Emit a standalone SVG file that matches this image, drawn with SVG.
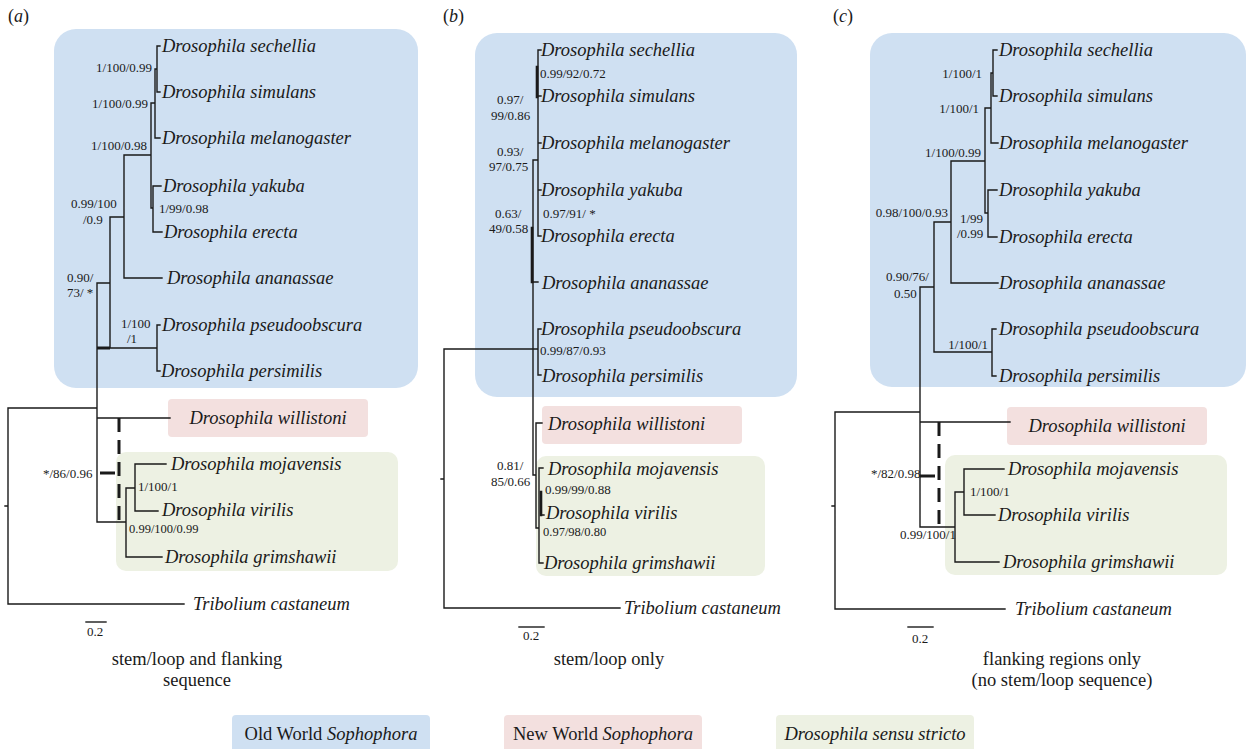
<svg xmlns="http://www.w3.org/2000/svg" width="1255" height="749" viewBox="0 0 1255 749">
<style>
.bg{fill:#fff}
.blue{fill:#cfe0f2}
.pink{fill:#f3e0df}
.green{fill:#edf1e3}
.tx{font-family:"Liberation Serif","Times New Roman",serif;font-style:italic;font-size:18.5px;fill:#1a1a1a}
.lb{font-family:"Liberation Serif","Times New Roman",serif;font-size:13px;fill:#1a1a1a}
.sm{font-size:12.5px}
.cap{font-family:"Liberation Serif","Times New Roman",serif;font-size:18.5px;fill:#1a1a1a;text-anchor:middle}
.pl{font-family:"Liberation Serif","Times New Roman",serif;font-size:18px;fill:#1a1a1a}
.ln{stroke:#1a1a1a;stroke-width:1.4;fill:none;stroke-linecap:square}
.th{stroke:#1a1a1a;stroke-width:3;fill:none}
.da{stroke:#1a1a1a;stroke-width:3;fill:none;stroke-dasharray:14 8}
</style>
<rect class="bg" x="0" y="0" width="1255" height="749"/>

<!-- panel labels -->
<text class="pl" x="8" y="22">(<tspan font-style="italic">a</tspan>)</text>
<text class="pl" x="443" y="22">(<tspan font-style="italic">b</tspan>)</text>
<text class="pl" x="833" y="22">(<tspan font-style="italic">c</tspan>)</text>

<!-- clade boxes -->
<g id="boxes">
<rect class="blue" x="54" y="29" width="364" height="359" rx="22"/>
<rect class="pink" x="168" y="399" width="200" height="38" rx="4"/>
<rect class="green" x="116" y="452" width="282" height="119" rx="10"/>
<rect class="blue" x="475" y="33" width="322" height="364" rx="22"/>
<rect class="pink" x="542" y="406" width="200" height="38" rx="4"/>
<rect class="green" x="536" y="456" width="229" height="120" rx="10"/>
<rect class="blue" x="870" y="33" width="376" height="354" rx="22"/>
<rect class="pink" x="1007" y="407" width="200" height="38" rx="4"/>
<rect class="green" x="945" y="455" width="282" height="120" rx="10"/>
</g>

<!-- connectors (tree branches) -->
<g id="connectors">
<!-- panel a -->
<path class="ln" d="M160 46H157V92H160 M155 69H157 M160 138H155V69 M152 103H155 M161 186H153V232H162 M151 208H153 M151 103V208 M124 155H151 M124 155V278H162 M110 217H124 M110 217V348H157 M97 283H110 M157 325V371 M157 325H160 M157 371H160 M97 283V522 M8 408H97 M8 408V604H184 M5 506H8 M97 418H170 M97 522H126 M126 488V557H162 M126 488H135 M135 464V511 M135 464H166 M135 511H158"/>
<path class="th" d="M97 348H110 M100 473H115"/>
<path class="da" d="M119 418V520"/>
<!-- scale a -->
<path class="ln" d="M86 622H106"/>

<!-- panel b -->
<path class="ln" d="M538 50V236 M538 50H541 M538 96H541 M538 143H541 M538 190H541 M538 236H541 M533 160H538 M533 160V475 M533 282H538 M444 349H538 M538 329V375 M538 329H541 M538 375H541 M444 349V608H620 M441 479H444 M533 475H536 M536 423V528 M536 423H542 M536 528H539 M539 468V563 M539 468H543 M539 563H543 M541 515H544"/>
<path class="ln" style="stroke-width:2.6" d="M537 67V97 M532 228V282 M541 492V515"/>
<!-- scale b -->
<path class="ln" d="M519 627H544"/>

<!-- panel c -->
<path class="ln" d="M997 50H993V96H997 M991 73H993 M991 73V143H998 M985 108H991 M997 190H988V237H997 M985 213H988 M985 108V213 M951 161H985 M951 161V283H998 M934 222H951 M934 222V352H992 M992 329V376 M992 329H996 M992 376H996 M920 287H934 M920 287V527 M835 412H920 M835 412V609H1005 M832 506H835 M920 422H1010 M920 527H955 M955 492V562H999 M955 492H964 M964 469V515 M964 469H1004 M964 515H995"/>
<path class="th" d="M920 476H935"/>
<path class="da" d="M939 422V524"/>
<!-- scale c -->
<path class="ln" d="M908 627H933"/>
</g>

<!-- panel a taxa -->
<g id="a-sechellia"><text class="tx" x="162" y="52">Drosophila sechellia</text></g>
<g id="a-simulans"><text class="tx" x="162" y="98">Drosophila simulans</text></g>
<g id="a-melanogaster"><text class="tx" x="162" y="144">Drosophila melanogaster</text></g>
<g id="a-yakuba"><text class="tx" x="163" y="192">Drosophila yakuba</text></g>
<g id="a-erecta"><text class="tx" x="164" y="238">Drosophila erecta</text></g>
<g id="a-ananassae"><text class="tx" x="167" y="284">Drosophila ananassae</text></g>
<g id="a-pseudoobscura"><text class="tx" x="162" y="331">Drosophila pseudoobscura</text></g>
<g id="a-persimilis"><text class="tx" x="161" y="377">Drosophila persimilis</text></g>
<g id="a-willistoni"><text class="tx" x="268" y="424" text-anchor="middle">Drosophila willistoni</text></g>
<g id="a-mojavensis"><text class="tx" x="171" y="470">Drosophila mojavensis</text></g>
<g id="a-virilis"><text class="tx" x="162" y="516">Drosophila virilis</text></g>
<g id="a-grimshawii"><text class="tx" x="165" y="563">Drosophila grimshawii</text></g>
<g id="a-tribolium"><text class="tx" x="193" y="610">Tribolium castaneum</text></g>
<g id="a-supports">
<text class="lb" x="152" y="72" text-anchor="end">1/100/0.99</text>
<text class="lb" x="148" y="108" text-anchor="end">1/100/0.99</text>
<text class="lb" x="147" y="150" text-anchor="end">1/100/0.98</text>
<text class="lb" x="159" y="213">1/99/0.98</text>
<text class="lb" x="71" y="208">0.99/100</text>
<text class="lb" x="83" y="224">/0.9</text>
<text class="lb" x="67" y="282">0.90/</text>
<text class="lb" x="67" y="297">73/ *</text>
<text class="lb" x="121" y="328">1/100</text>
<text class="lb" x="127" y="343">/1</text>
<text class="lb" x="43" y="478">*/86/0.96</text>
<text class="lb" x="138" y="491">1/100/1</text>
<text class="lb sm" x="129" y="533">0.99/100/0.99</text>
<text class="lb" x="87" y="636">0.2</text>
</g>

<!-- panel b taxa -->
<g id="b-sechellia"><text class="tx" x="541" y="56">Drosophila sechellia</text></g>
<g id="b-simulans"><text class="tx" x="541" y="102">Drosophila simulans</text></g>
<g id="b-melanogaster"><text class="tx" x="541" y="149">Drosophila melanogaster</text></g>
<g id="b-yakuba"><text class="tx" x="541" y="196">Drosophila yakuba</text></g>
<g id="b-erecta"><text class="tx" x="541" y="242">Drosophila erecta</text></g>
<g id="b-ananassae"><text class="tx" x="542" y="289">Drosophila ananassae</text></g>
<g id="b-pseudoobscura"><text class="tx" x="541" y="335">Drosophila pseudoobscura</text></g>
<g id="b-persimilis"><text class="tx" x="542" y="382">Drosophila persimilis</text></g>
<g id="b-willistoni"><text class="tx" x="548" y="430">Drosophila willistoni</text></g>
<g id="b-mojavensis"><text class="tx" x="548" y="475">Drosophila mojavensis</text></g>
<g id="b-virilis"><text class="tx" x="546" y="519">Drosophila virilis</text></g>
<g id="b-grimshawii"><text class="tx" x="544" y="569">Drosophila grimshawii</text></g>
<g id="b-tribolium"><text class="tx" x="624" y="614">Tribolium castaneum</text></g>
<g id="b-supports">
<text class="lb" x="540" y="78">0.99/92/0.72</text>
<text class="lb" x="497" y="104">0.97/</text>
<text class="lb" x="491" y="120">99/0.86</text>
<text class="lb" x="497" y="156">0.93/</text>
<text class="lb" x="489" y="171">97/0.75</text>
<text class="lb" x="495" y="218">0.63/</text>
<text class="lb" x="489" y="233">49/0.58</text>
<text class="lb" x="543" y="218">0.97/91/ *</text>
<text class="lb" x="540" y="355">0.99/87/0.93</text>
<text class="lb" x="497" y="470">0.81/</text>
<text class="lb" x="491" y="486">85/0.66</text>
<text class="lb" x="545" y="494">0.99/99/0.88</text>
<text class="lb sm" x="543" y="536">0.97/98/0.80</text>
<text class="lb" x="523" y="640">0.2</text>
</g>

<!-- panel c taxa -->
<g id="c-sechellia"><text class="tx" x="999" y="56">Drosophila sechellia</text></g>
<g id="c-simulans"><text class="tx" x="999" y="102">Drosophila simulans</text></g>
<g id="c-melanogaster"><text class="tx" x="999" y="149">Drosophila melanogaster</text></g>
<g id="c-yakuba"><text class="tx" x="999" y="196">Drosophila yakuba</text></g>
<g id="c-erecta"><text class="tx" x="999" y="243">Drosophila erecta</text></g>
<g id="c-ananassae"><text class="tx" x="999" y="289">Drosophila ananassae</text></g>
<g id="c-pseudoobscura"><text class="tx" x="999" y="335">Drosophila pseudoobscura</text></g>
<g id="c-persimilis"><text class="tx" x="999" y="382">Drosophila persimilis</text></g>
<g id="c-willistoni"><text class="tx" x="1107" y="432" text-anchor="middle">Drosophila willistoni</text></g>
<g id="c-mojavensis"><text class="tx" x="1008" y="475">Drosophila mojavensis</text></g>
<g id="c-virilis"><text class="tx" x="998" y="521">Drosophila virilis</text></g>
<g id="c-grimshawii"><text class="tx" x="1003" y="568">Drosophila grimshawii</text></g>
<g id="c-tribolium"><text class="tx" x="1015" y="615">Tribolium castaneum</text></g>
<g id="c-supports">
<text class="lb" x="982" y="78" text-anchor="end">1/100/1</text>
<text class="lb" x="979" y="113" text-anchor="end">1/100/1</text>
<text class="lb" x="981" y="157" text-anchor="end">1/100/0.99</text>
<text class="lb" x="948" y="217" text-anchor="end">0.98/100/0.93</text>
<text class="lb" x="960" y="223">1/99</text>
<text class="lb" x="957" y="238">/0.99</text>
<text class="lb" x="886" y="281">0.90/76/</text>
<text class="lb" x="894" y="298">0.50</text>
<text class="lb" x="988" y="349" text-anchor="end">1/100/1</text>
<text class="lb" x="871" y="478">*/82/0.98</text>
<text class="lb" x="970" y="496">1/100/1</text>
<text class="lb" x="900" y="539">0.99/100/1</text>
<text class="lb" x="912" y="643">0.2</text>
</g>

<!-- captions -->
<g id="captions">
<text class="cap" x="197" y="665">stem/loop and flanking</text>
<text class="cap" x="197" y="686">sequence</text>
<text class="cap" x="609" y="665">stem/loop only</text>
<text class="cap" x="1062" y="665">flanking regions only</text>
<text class="cap" x="1062" y="686">(no stem/loop sequence)</text>
</g>

<!-- legend -->
<g id="legend-old">
<rect class="blue" x="232" y="715" width="198" height="40" rx="4"/>
<text class="cap" x="331" y="740">Old World <tspan font-style="italic">Sophophora</tspan></text>
</g>
<g id="legend-new">
<rect class="pink" x="504" y="715" width="198" height="40" rx="4"/>
<text class="cap" x="603" y="740">New World <tspan font-style="italic">Sophophora</tspan></text>
</g>
<g id="legend-sensu">
<rect class="green" x="776" y="715" width="198" height="40" rx="4"/>
<text class="cap" x="875" y="740" font-style="italic">Drosophila sensu stricto</text>
</g>
</svg>
